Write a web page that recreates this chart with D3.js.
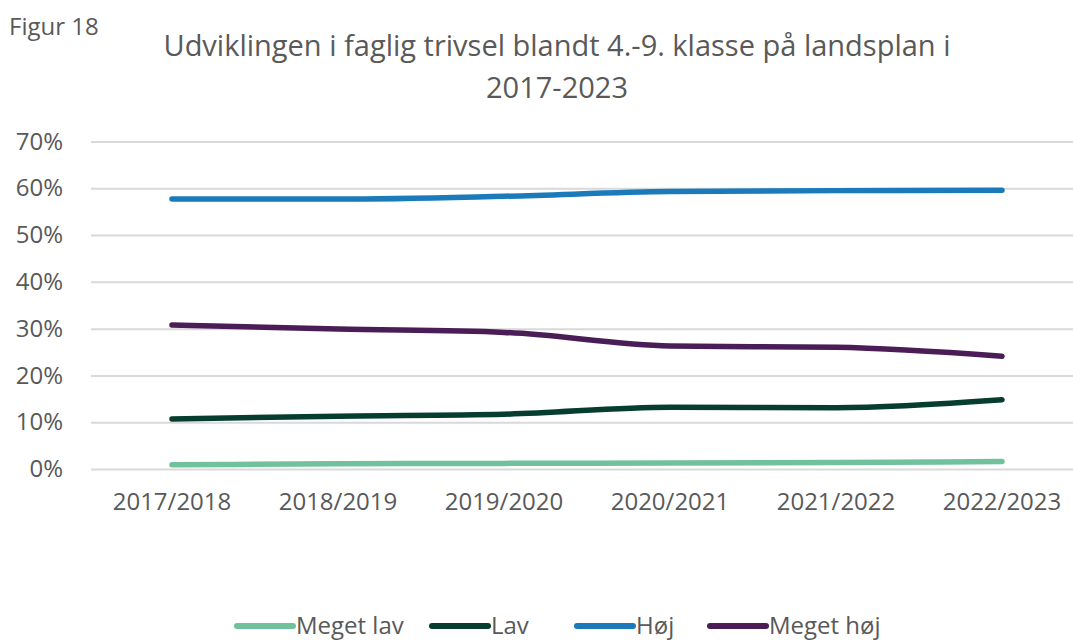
<!DOCTYPE html>
<html>
<head>
<meta charset="utf-8">
<script src="https://cdn.jsdelivr.net/npm/d3@7"></script>
<style>
  body { margin: 0; background: #fff; }
  svg { display: block; font-family: 'Open Sans', sans-serif; }
</style>
</head>
<body>
<svg id="chart" width="1073" height="641"></svg>
<script>
// data
let years = ['2017/2018', '2018/2019', '2019/2020', '2020/2021', '2021/2022', '2022/2023'];
let megetLav = [0.9, 1.1, 1.2, 1.3, 1.4, 1.6];
let lav = [10.7, 11.3, 11.7, 13.2, 13.1, 14.8];
let hoj = [57.7, 57.7, 58.3, 59.3, 59.5, 59.6];
let megetHoj = [30.8, 29.9, 29.2, 26.3, 26.0, 24.1];
let seriesNames = ['Meget lav', 'Lav', 'Høj', 'Meget høj'];
let colors = ['#72c19d', '#063d2f', '#1b7bba', '#4a1d57'];
let yTicks = [0, 10, 20, 30, 40, 50, 60, 70];

let allSeries = [megetLav, lav, hoj, megetHoj];

let svg = d3.select('#chart');
let width = 1073;
let margin = { top: 141, left: 89, right: -12, bottom: 172 };
let plotBottom = 469;

let x = d3.scaleBand()
  .domain(years)
  .range([margin.left, width - margin.right]);

let y = d3.scaleLinear()
  .domain([0, 70])
  .range([plotBottom, margin.top + 0.5]);

// title
svg.append('text')
  .attr('x', 9).attr('y', 35)
  .attr('fill', '#595959')
  .style('font-size', '24px')
  .text('Figur 18');

let title = svg.append('text')
  .attr('text-anchor', 'middle')
  .attr('fill', '#595959')
  .style('font-size', '29px');
title.append('tspan').attr('x', 557).attr('y', 56)
  .text('Udviklingen i faglig trivsel blandt 4.-9. klasse på landsplan i');
title.append('tspan').attr('x', 557).attr('y', 98)
  .text('2017-2023');

// gridlines
let yAxis = svg.append('g')
  .attr('transform', 'translate(91,0)')
  .call(d3.axisLeft(y).tickValues(yTicks).tickSize(-(width - 91)).tickFormat(d => d + '%'));
yAxis.select('.domain').remove();
yAxis.selectAll('.tick line').attr('stroke', '#d9d9d9').attr('stroke-width', 2);
yAxis.selectAll('.tick text')
  .attr('x', -28)
  .attr('fill', '#595959')
  .style('font-size', '24px')
  .style('font-family', "'Open Sans', sans-serif");

// x labels
let xAxis = svg.append('g')
  .attr('transform', `translate(0,${plotBottom})`)
  .call(d3.axisBottom(x).tickSize(0).tickPadding(24));
xAxis.select('.domain').remove();
xAxis.selectAll('.tick text')
  .attr('fill', '#595959')
  .style('font-size', '24px')
  .style('font-family', "'Open Sans', sans-serif");

// lines
let line = d3.line()
  .x((d, i) => x(years[i]) + x.bandwidth() / 2)
  .y(d => y(d))
  .curve(d3.curveMonotoneX);

svg.append('g').selectAll('path')
  .data(allSeries)
  .enter()
  .append('path')
  .attr('d', line)
  .attr('fill', 'none')
  .attr('stroke', (d, i) => colors[i])
  .attr('stroke-width', 5.5)
  .attr('stroke-linecap', 'round')
  .attr('stroke-linejoin', 'round');

// legend
let legendX = [237, 432, 577, 710];
let legend = svg.append('g').selectAll('g')
  .data(seriesNames)
  .enter()
  .append('g')
  .attr('transform', (d, i) => `translate(${legendX[i]},626)`);

legend.append('line')
  .attr('x1', 0).attr('x2', 56)
  .attr('stroke', (d, i) => colors[i])
  .attr('stroke-width', 6)
  .attr('stroke-linecap', 'round');

legend.append('text')
  .attr('x', 59).attr('y', 8)
  .attr('fill', '#595959')
  .style('font-size', '24px')
  .text(d => d);
</script>
</body>
</html>
